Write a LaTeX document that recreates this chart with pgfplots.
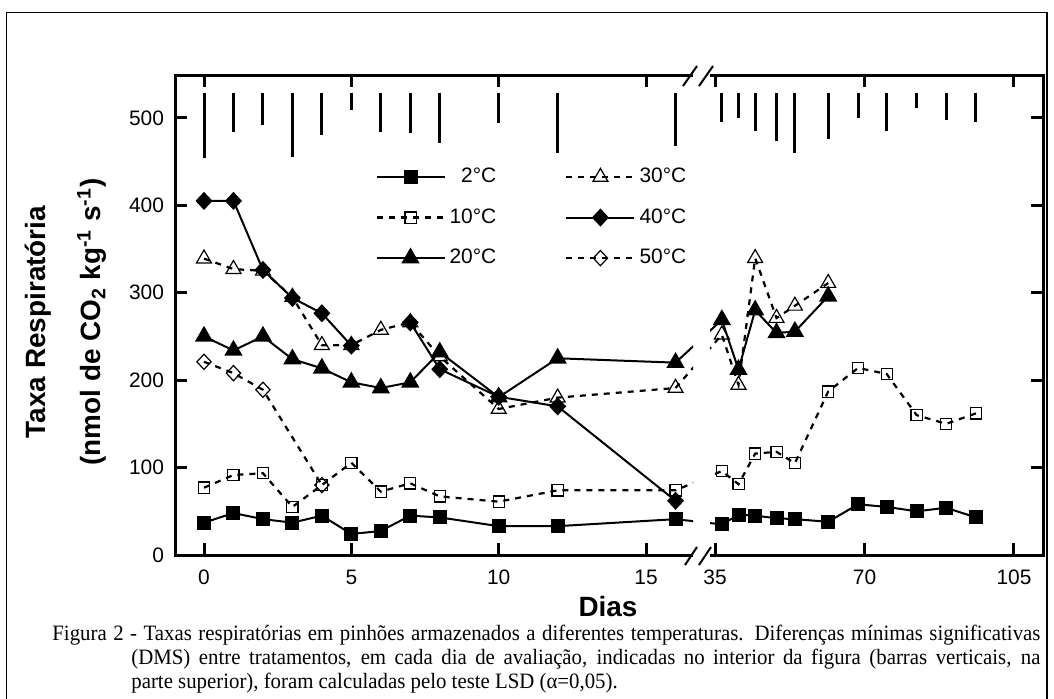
\documentclass[border=0pt]{standalone}
\usepackage{fontspec}
\setmainfont{Liberation Serif}
\newfontfamily\arial{Liberation Sans}
\newfontfamily\capfont[FakeStretch=0.95]{Liberation Serif}
\usepackage{pgfplots}
\usepackage{pgfplotstable}
\pgfplotsset{compat=1.18}

\pgfplotstableread{
d v
0 37
1 48
2 41
3 37
4 45
5 24
6 27.5
7 45
8 43
10 33
12 33
16 41
36.6 35
40.5 46
44.4 45
49.4 42
53.7 41
61.5 38
68.5 58
75.2 55
82.2 50
89.1 54
96.1 43
}\tA
\pgfplotstableread{
d v
0 77
1 91.5
2 93.5
3 55
4 80
5 105.5
6 72.5
7 82
8 67
10 61
12 74
16 74
36.6 96
40.5 81
44.4 116
49.4 118
53.7 105
61.5 187
68.5 214
75.2 207
82.2 160
89.1 150
96.1 162
}\tB
\pgfplotstableread{
d v
0 250
1 234
2 250
3 224
4 213.5
5 197.5
6 191
7 197.5
8 232
10 180.5
12 225
16 220
36.6 269
40.5 212
44.4 280
49.4 254
53.7 255.5
61.5 296
}\tC
\pgfplotstableread{
d v
0 339
1 327
2 325
3 295
4 240
5 240
6 257.5
7 266
8 227
10 167
12 180
16 191
36.6 252
40.5 194.5
44.4 339.5
49.4 271
53.7 285
61.5 311
}\tD
\pgfplotstableread{
d v
0 405
1 405
2 326
3 294
4 276.5
5 239.5
6 nan
7 266
8 212.5
10 181
12 170
16 62
}\tE
\pgfplotstableread{
d v
0 221
1 208
2 189
4 80
}\tF
% DMS bars: day, lower end (upper end 528.6)
\pgfplotstableread{
d b
0 453.9
1 484.3
2 492
3 455
4 480.5
5 509
6 484.3
7 482.5
8 471
10 494
12 460
16 468
36.6 495.4
40.5 499.3
44.4 485.5
49.4 473.7
53.7 460
61.5 476
68.5 499.3
75.2 485.5
82.2 511.4
89.1 497.7
96.1 495.4
}\tDMS

% broken axis: days 0-16 at one scale, days >= 35 compressed
\newcommand\ux{ifthenelse(\thisrow{d}<25,\thisrow{d},17.34+(\thisrow{d}-35)*0.14493)}

\pgfplotsset{
  common/.style={
    scale only axis, anchor=south west,
    ymin=0, ymax=549, ytick={0,100,...,500},
    tick align=inside, xtick pos=both,
    axis line style={draw=none},
    major tick length=5.8bp,
    tick style={black, line width=1.5bp},
    ticklabel style={font=\arial\fontsize{10.5}{12}\selectfont},
    /pgf/number format/assume math mode=true,
    xticklabel style={yshift=-4bp},
    yticklabel style={xshift=-2bp},
    unbounded coords=jump,
    legend image code/.code={\draw[mark repeat=2,mark phase=2,##1] plot coordinates {(0bp,0bp) (17bp,0bp) (34bp,0bp)};},
  },
  sA/.style={black, line width=1bp, solid, mark=square*, mark size=3bp, mark options={solid, fill=black}},
  sB/.style={black, line width=1.1bp, dash pattern=on 3bp off 3bp, mark=square, mark size=2.8bp, mark options={solid, fill=white, line width=0.6bp}},
  sC/.style={black, line width=1bp, solid, mark=triangle*, mark size=4.3bp, mark options={solid, fill=black}},
  sD/.style={black, line width=1.1bp, dash pattern=on 3bp off 3bp, mark=triangle, mark size=4.3bp, mark options={solid, fill=white, line width=0.6bp}},
  sE/.style={black, line width=1bp, solid, mark=diamond*, mark size=3.8bp, mark options={solid, fill=black, xscale=1.25}},
  sF/.style={black, line width=1.1bp, dash pattern=on 3bp off 3bp, mark=diamond, mark size=3.8bp, mark options={solid, fill=white, line width=0.6bp, xscale=1.25}},
}

\newcommand\plotall{%
  \addplot[draw=none, mark=none, forget plot, error bars/.cd, y dir=minus, y explicit, error mark=none,
    error bar style={draw=black, solid, line width=1.5bp}]
    table[x expr=\ux, y expr=528.6, y error expr=528.6-\thisrow{b}]{\tDMS};
  \addplot[sA] table[x expr=\ux, y=v]{\tA};
  \addplot[sD] table[x expr=\ux, y=v]{\tD};
  \addplot[sB] table[x expr=\ux, y=v]{\tB};
  \addplot[sE] table[x expr=\ux, y=v]{\tE};
  \addplot[sC] table[x expr=\ux, y=v]{\tC};
  \addplot[sF] table[x expr=\ux, y=v]{\tF};
}

\begin{document}
\begin{tikzpicture}
\useasboundingbox (0,0) rectangle (527bp,-349.5bp);
\draw[line width=0.6bp] (3.35bp,-6.15bp) rectangle (523.5bp,-400bp);

\begin{axis}[name=L, common, at={(87.5bp,-277.5bp)}, width=259bp, height=240bp,
  xmin=-0.984, xmax=16.593, xtick={0,5,10,15}, ytick pos=left,
  legend entries={2°C,30°C,10°C,40°C,20°C,50°C},
  legend cell align=right,
  legend style={draw=none, fill=none, at={(axis cs:5.6,452)}, anchor=north west,
    font=\arial\fontsize{10.5}{12}\selectfont, legend columns=2, row sep=7.5bp,
    /tikz/every even column/.append style={column sep=32.5bp}},
  ]
  \plotall
\end{axis}

\begin{axis}[name=R, common, at={(355bp,-277.5bp)}, width=166.5bp, height=240bp,
  xmin=17.17, xmax=28.47, xtick={17.34,22.413,27.485}, xticklabels={35,70,105},
  ytick pos=right, yticklabels={}]
  \plotall
\end{axis}

\draw[line width=1.5bp, line join=miter] (L.south east) -- (L.south west) -- (L.north west) -- (L.north east);
\draw[line width=1.5bp, line join=miter] (R.south west) -- (R.south east) -- (R.north east) -- (R.north west);

% axis break marks
\draw[line width=1bp] (341.5bp,-43bp) -- (348.5bp,-33bp) (349.5bp,-43bp) -- (356.5bp,-33bp);
\draw[line width=1bp] (342.5bp,-282.5bp) -- (348.5bp,-273.5bp) (349.5bp,-282.5bp) -- (355.5bp,-273.5bp);

% axis titles
\node[anchor=base, font=\arial\bfseries\fontsize{14}{16}\selectfont] at (304bp,-308bp) {Dias};
\node[rotate=90, font=\arial\bfseries\fontsize{14}{16}\selectfont] at (19bp,-161bp) {Taxa Respiratória};
\node[rotate=90, font=\arial\bfseries\fontsize{14}{16}\selectfont] at (46bp,-161bp) {(nmol de CO\textsubscript{2} kg\textsuperscript{-1} s\textsuperscript{-1})};

% caption
\begin{scope}[every node/.style={inner sep=0pt, anchor=base west, font=\capfont\fontsize{11}{12}\selectfont}]
\node at (26bp,-320bp) {\makebox[494bp][s]{Figura 2 - Taxas respiratórias em pinhões armazenados a diferentes temperaturas. Diferenças mínimas significativas}};
\node at (65.5bp,-332bp) {\makebox[454.5bp][s]{(DMS) entre tratamentos, em cada dia de avaliação, indicadas no interior da figura (barras verticais, na}};
\node at (65.5bp,-344bp) {parte superior), foram calculadas pelo teste LSD (α=0,05).};
\end{scope}
\end{tikzpicture}
\end{document}
